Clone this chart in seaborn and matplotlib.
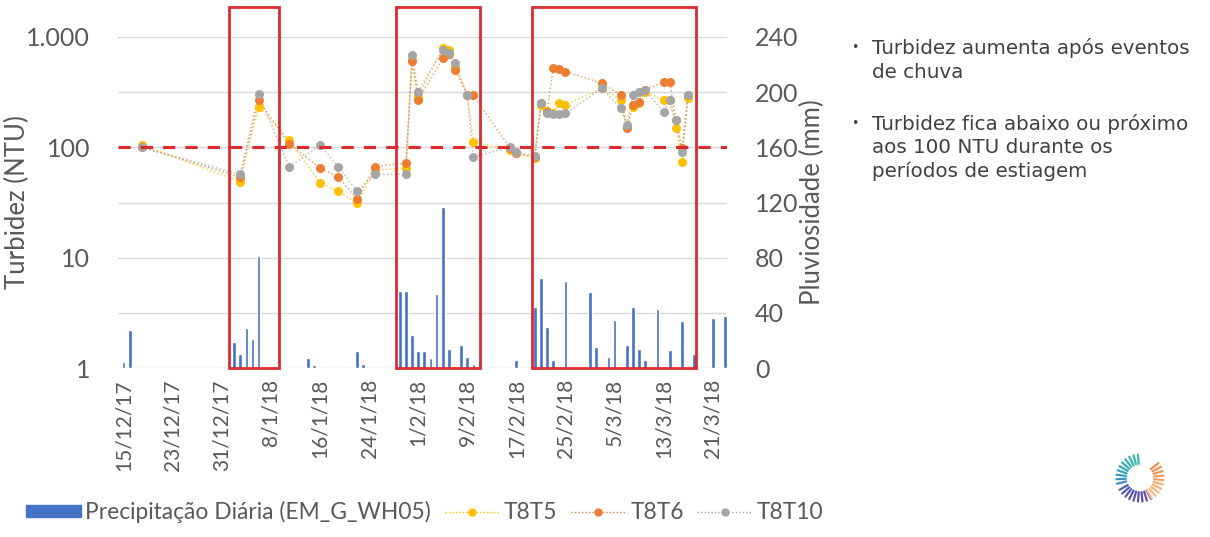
import numpy as np
import pandas as pd
import matplotlib
matplotlib.use('Agg')
import matplotlib.pyplot as plt
from matplotlib.patches import Rectangle, Patch
from matplotlib.lines import Line2D
from matplotlib.ticker import FixedLocator, NullLocator
import seaborn as sns

# Precipitação diária (mm) - estação EM_G_WH05
chuva_datas = ['2017-12-15', '2017-12-16',
               '2018-01-02', '2018-01-03', '2018-01-04', '2018-01-05', '2018-01-06',
               '2018-01-10', '2018-01-12', '2018-01-14', '2018-01-15', '2018-01-22', '2018-01-23',
               '2018-01-29', '2018-01-30', '2018-01-31', '2018-02-01', '2018-02-02', '2018-02-03',
               '2018-02-04', '2018-02-05', '2018-02-06', '2018-02-08', '2018-02-09', '2018-02-10',
               '2018-02-17',
               '2018-02-20', '2018-02-21', '2018-02-22', '2018-02-23', '2018-02-24', '2018-02-25',
               '2018-02-27', '2018-03-01', '2018-03-02', '2018-03-04', '2018-03-05', '2018-03-07',
               '2018-03-08', '2018-03-09', '2018-03-10', '2018-03-12', '2018-03-14', '2018-03-16',
               '2018-03-18', '2018-03-21', '2018-03-23']
chuva_mm = [4.5, 27.5,
            19, 10, 29, 21, 81,
            0.8, 0.8, 7, 2, 12, 3,
            56, 56, 24, 12, 12, 7,
            54, 117, 14, 17, 8, 3,
            6,
            44, 65, 30, 6, 1, 63,
            1, 55, 15, 8, 35, 17,
            44, 14, 6, 43, 13, 34,
            10, 36, 38]

# Turbidez (NTU) nos pontos T8T5, T8T6 e T8T10
turb_datas = ['2017-12-18', '2018-01-03', '2018-01-06', '2018-01-11', '2018-01-16', '2018-01-19',
              '2018-01-22', '2018-01-25', '2018-01-30', '2018-01-31', '2018-02-01', '2018-02-05',
              '2018-02-06', '2018-02-07', '2018-02-09', '2018-02-10', '2018-02-16', '2018-02-17',
              '2018-02-20', '2018-02-21', '2018-02-22', '2018-02-23', '2018-02-24', '2018-02-25',
              '2018-03-03', '2018-03-06', '2018-03-07', '2018-03-08', '2018-03-09', '2018-03-10',
              '2018-03-13', '2018-03-14', '2018-03-15', '2018-03-16', '2018-03-17']
t8t5 = [105, 49, 233, 116, 48, 40, 31, 62, 65, 620, 290, 800,
        760, 540, 300, 112, 95, 88, 80, 240, 215, 205, 250, 242,
        343, 270, 154, 230, 250, 320, 268, 268, 150, 74, 280]
t8t6 = [100, 54, 268, 107, 65, 54, 34, 67, 72, 600, 268, 640,
        700, 500, 300, 295, 98, 88, 82, 250, 210, 520, 510, 486,
        380, 298, 150, 242, 260, 330, 393, 393, 177, 98, 300]
t8t10 = [100, 57, 304, 66, 105, 67, 40, 57, 57, 690, 320, 760,
         720, 580, 300, 82, 100, 90, 84, 251, 205, 200, 200, 203,
         343, 226, 160, 298, 320, 330, 210, 268, 177, 90, 300]

# Períodos chuvosos destacados
periodos = [('2018-01-01 05:00', '2018-01-09 07:00'),
            ('2018-01-28 10:00', '2018-02-11 02:00'),
            ('2018-02-19 12:00', '2018-03-18 05:00')]

# Rótulos do eixo x (a cada 8 dias)
ticks_datas = pd.date_range('2017-12-15', '2018-03-21', freq='8D')
ticks_rotulos = [f'{d.day}/{d.month}/{d.strftime("%y")}' for d in ticks_datas]

limite_ntu = 100

cinza = '#595959'
cores = {'T8T5': '#FFC000', 'T8T6': '#ED7D31', 'T8T10': '#A5A5A5'}
azul = '#4472C4'
vermelho = '#DD2A2E'

sns.set_style('white')
plt.rcParams['font.family'] = ['Lato', 'DejaVu Sans']

fig = plt.figure(figsize=(12.1, 5.37), dpi=100)
W, H = 1210, 537
ax = fig.add_axes([118 / W, 1 - 368 / H, 609 / W, 331 / H])
ax2 = ax.twinx()

# Precipitação - eixo da direita
chuva = pd.DataFrame({'data': pd.to_datetime(chuva_datas), 'mm': chuva_mm})
ax.bar(chuva['data'], chuva['mm'], width=0.6, color=azul, zorder=2)
ax.set_ylim(0, 240)
ax.yaxis.set_major_locator(FixedLocator(np.arange(0, 241, 40)))
ax.yaxis.tick_right()
ax.yaxis.set_label_position('right')
ax.grid(axis='y', color='#D9D9D9', lw=1)
ax.set_ylabel('Pluviosidade (mm)', fontsize=18.5, color=cinza)
ax.yaxis.set_label_coords(1.12, 0.5)

# Turbidez - eixo da esquerda (log)
ax2.set_yscale('log')
ax2.set_ylim(1, 1000)
turb = pd.DataFrame({'data': pd.to_datetime(turb_datas), 'T8T5': t8t5,
                     'T8T6': t8t6, 'T8T10': t8t10})
for nome in ['T8T5', 'T8T6', 'T8T10']:
    sns.lineplot(data=turb, x='data', y=nome, ax=ax2, color=cores[nome], lw=1.1,
                 linestyle=(0, (1, 1.5)), alpha=0.7, zorder=3)
    sns.scatterplot(data=turb, x='data', y=nome, ax=ax2, color=cores[nome], s=42,
                    linewidth=0, zorder=4)
ax2.axhline(limite_ntu, color=vermelho, lw=2.2, ls=(0, (4, 3.3)), zorder=5)
ax2.yaxis.tick_left()
ax2.yaxis.set_label_position('left')
ax2.yaxis.set_major_locator(FixedLocator([1, 10, 100, 1000]))
ax2.yaxis.set_minor_locator(NullLocator())
ax2.set_yticklabels(['1', '10', '100', '1.000'])
ax2.set_ylabel('Turbidez (NTU)', fontsize=18.5, color=cinza)
ax2.yaxis.set_label_coords(-0.145, 0.5)

# Retângulos dos períodos chuvosos
for ini, fim in periodos:
    x0 = matplotlib.dates.date2num(pd.Timestamp(ini))
    x1 = matplotlib.dates.date2num(pd.Timestamp(fim))
    ax2.add_patch(Rectangle((x0, 0), x1 - x0, 262, transform=ax.transData, fill=False,
                            edgecolor=vermelho, lw=2, clip_on=False, zorder=6))

ax.set_xlim(pd.Timestamp('2017-12-14 02:00'), pd.Timestamp('2018-03-23 08:00'))
ax.xaxis.set_major_locator(FixedLocator(matplotlib.dates.date2num(ticks_datas)))
ax.set_xticklabels(ticks_rotulos, rotation=90, ha='center', va='top')
ax.set_xlabel('')
ax2.set_xlabel('')

for a in (ax, ax2):
    a.tick_params(length=0, labelsize=18, colors=cinza)
    for s in a.spines.values():
        s.set_visible(False)
ax.tick_params(axis='x', labelsize=15, pad=8)
ax.tick_params(axis='y', pad=20)
ax2.tick_params(axis='y', pad=20)

# Legenda
handles = [Patch(color=azul)] + [
    Line2D([0], [0], color=cores[n], marker='o', markersize=5, lw=1,
           linestyle=(0, (1, 1.5))) for n in ['T8T5', 'T8T6', 'T8T10']]
labels = ['Precipitação Diária (EM_G_WH05)', 'T8T5', 'T8T6', 'T8T10']
leg = fig.legend(handles, labels, loc='center left', bbox_to_anchor=(26 / W, 1 - 512 / H),
                 ncol=4, frameon=False, fontsize=16.4, handlelength=2.4, handleheight=0.45,
                 handletextpad=0.2, columnspacing=0.6, borderaxespad=0, borderpad=0)
for t in leg.get_texts():
    t.set_color(cinza)

# Texto explicativo
linhas = [('•', 'Turbidez aumenta após eventos', 48),
          ('', 'de chuva', 72),
          ('•', 'Turbidez fica abaixo ou próximo', 124),
          ('', 'aos 100 NTU durante os', 148),
          ('', 'períodos de estiagem', 171)]
for bullet, txt, y in linhas:
    if bullet:
        fig.text(851 / W, 1 - y / H, bullet, fontsize=9, color='#404040', va='center',
                 family='DejaVu Sans')
    fig.text(872 / W, 1 - y / H, txt, fontsize=14.3, color='#404040', va='center',
             family='DejaVu Sans')

# Logotipo
lax = fig.add_axes([1114 / W, 1 - 504 / H, 52 / W, 52 / H])
lax.set_xlim(-1.1, 1.1)
lax.set_ylim(-1.1, 1.1)
lax.set_aspect('equal')
lax.axis('off')
arcos = [(95, 200, '#35C2A0', '#3A8FC8'), (210, 300, '#4A5FB5', '#6A4BA5'),
         (-60, 50, '#F5BE8E', '#EE8F45')]
for a0, a1, c0, c1 in arcos:
    angs = np.arange(a0, a1, 11)
    mix = np.linspace(0, 1, len(angs))
    rgb0 = np.array(matplotlib.colors.to_rgb(c0))
    rgb1 = np.array(matplotlib.colors.to_rgb(c1))
    for ang, m in zip(angs, mix):
        r = np.deg2rad(ang)
        lax.plot([0.6 * np.cos(r), np.cos(r)], [0.6 * np.sin(r), np.sin(r)],
                 color=rgb0 * (1 - m) + rgb1 * m, lw=1.6, solid_capstyle='round')

fig.savefig('out.png', dpi=100)
